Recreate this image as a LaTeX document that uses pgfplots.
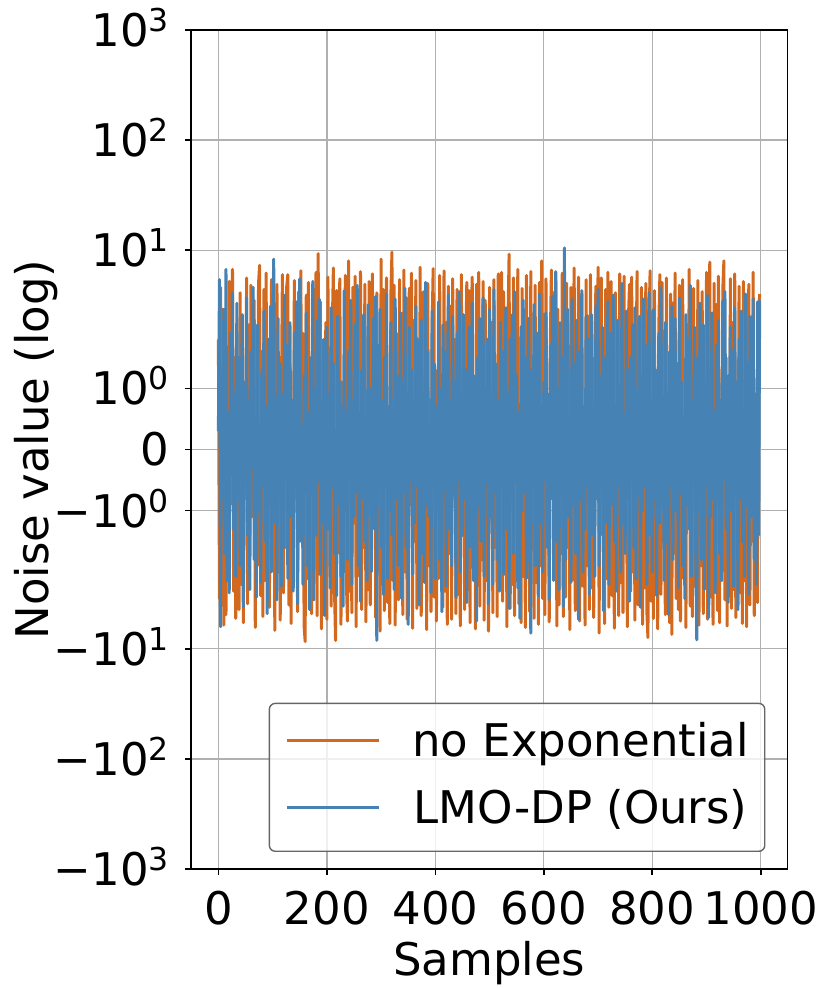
\documentclass[border=0pt]{standalone}
\usepackage{fontspec}
\setmainfont{DejaVu Sans}
\usepackage{pgfplots}
\usepackage{pgfplotstable}
\pgfplotsset{compat=1.18}
\definecolor{cOrange}{HTML}{D2691E}
\definecolor{cBlue}{HTML}{4682B4}
\definecolor{cGrid}{HTML}{B0B0B0}
\newcommand{\fs}{\fontsize{22.5}{27}\selectfont}
\newcommand{\pw}[1]{10\raisebox{0.33em}{\fontsize{15.75}{16}\selectfont #1}}

% no Exponential (samples 0,2,4,...,998)
\pgfplotstableread[row sep=\\]{
y\\
1.8\\ -3.5\\ 4.6\\ -1.2\\ 2.9\\ -6.1\\ 0.7\\ -4.9\\ 0.6\\ -2.2\\ 5.2\\ -0.9\\ 2.4\\ 6.7\\ -3.0\\ 1.5\\ -5.3\\ 1.1\\ -1.8\\ -4.4\\
4.1\\ -2.6\\ 1.3\\ -5.8\\ 0.5\\ -0.8\\ 5.6\\ -3.9\\ 2.1\\ -1.4\\ 4.8\\ -1.1\\ 0.9\\ 3.5\\ -6.4\\ 0.4\\ -1.9\\ 5.0\\ 7.3\\ -3.3\\
1.6\\ -5.1\\ 4.4\\ -2.4\\ 6.2\\ -1.1\\ 0.7\\ -4.2\\ 0.8\\ 5.4\\ -0.9\\ 2.3\\ -6.8\\ 1.2\\ 4.9\\ -2.0\\ 1.0\\ -5.5\\ 0.6\\ 6.0\\
-3.1\\ 2.5\\ -1.6\\ 4.7\\ 6.0\\ -4.0\\ 1.4\\ -5.9\\ 0.5\\ -2.7\\ 5.3\\ -0.7\\ 0.8\\ -4.6\\ 4.2\\ -1.5\\ 6.5\\ -0.6\\ 1.9\\ -6.2\\
-8.6\\ 3.9\\ -2.3\\ 5.1\\ -1.0\\ 0.6\\ -4.8\\ 4.5\\ -0.7\\ 1.7\\ 6.3\\ -5.0\\ 9.3\\ -2.1\\ 3.4\\ -6.6\\ 1.0\\ 1.2\\ -3.7\\ 2.2\\
-5.4\\ 5.7\\ -1.3\\ 0.4\\ -4.1\\ 2.0\\ 6.9\\ -2.8\\ -8.4\\ 4.3\\ -1.7\\ 2.9\\ 5.5\\ -6.0\\ 1.1\\ 0.9\\ -1.0\\ 5.9\\ -2.5\\ -5.6\\
8.0\\ -3.0\\ 0.6\\ -4.7\\ 4.6\\ -1.2\\ 5.8\\ -6.3\\ 1.5\\ 0.8\\ -2.2\\ 6.4\\ -4.4\\ 2.1\\ -1.6\\ 4.9\\ -5.7\\ 0.5\\ -2.9\\ 5.2\\
-4.0\\ 1.8\\ 6.1\\ -0.8\\ 2.7\\ -5.2\\ 4.1\\ -1.4\\ 1.0\\ -6.9\\ 8.3\\ -2.6\\ 4.4\\ -4.5\\ 1.2\\ 5.6\\ -3.8\\ 0.4\\ -5.9\\ 3.9\\
9.6\\ -2.4\\ 4.8\\ -6.1\\ 1.9\\ 0.7\\ -3.6\\ 5.4\\ -1.8\\ 0.5\\ -4.9\\ 6.6\\ -2.0\\ 3.7\\ -5.4\\ 1.4\\ 4.5\\ -0.9\\ 6.2\\ -6.5\\
2.3\\ -1.5\\ 5.3\\ -4.3\\ 0.6\\ -2.7\\ 7.0\\ -5.0\\ 1.6\\ 4.2\\ -1.1\\ 2.8\\ -6.7\\ 5.0\\ -1.9\\ 0.8\\ -4.6\\ 2.0\\ 6.8\\ -3.4\\
1.3\\ -5.6\\ 0.9\\ -2.3\\ 5.9\\ -1.1\\ 0.5\\ -4.2\\ 6.5\\ -3.0\\ 2.2\\ -6.0\\ 4.7\\ -1.7\\ 3.1\\ -5.4\\ 5.5\\ -0.7\\ 1.8\\ -4.8\\
4.4\\ -3.2\\ 0.6\\ -6.2\\ 6.0\\ -1.4\\ 1.0\\ -4.4\\ 1.6\\ 5.1\\ -2.9\\ 4.3\\ -5.8\\ 2.0\\ 5.7\\ -0.8\\ 1.1\\ -6.6\\ 4.9\\ -2.1\\
6.3\\ -4.1\\ 0.7\\ -1.8\\ 5.2\\ -5.5\\ 3.5\\ -2.4\\ 1.4\\ -6.9\\ 4.6\\ -0.6\\ 2.2\\ -4.7\\ 5.4\\ -1.6\\ 0.9\\ -5.1\\ 6.1\\ -2.8\\
1.9\\ 6.3\\ -3.7\\ 4.2\\ -2.1\\ 0.5\\ -6.3\\ 2.4\\ 9.2\\ -4.3\\ 1.5\\ -2.6\\ 5.6\\ -5.0\\ 0.8\\ -1.3\\ 6.7\\ -3.9\\ 0.6\\ -5.8\\
4.5\\ -2.2\\ 0.7\\ -6.4\\ 5.9\\ -1.5\\ 2.3\\ -4.6\\ 6.4\\ -0.6\\ 1.2\\ -5.3\\ 4.8\\ -2.5\\ 1.0\\ -6.0\\ 5.1\\ -1.9\\ 8.0\\ -3.5\\
2.6\\ -4.9\\ 5.5\\ -1.2\\ 0.6\\ -5.7\\ 1.8\\ 6.6\\ -0.8\\ 4.1\\ -2.0\\ 5.3\\ -6.2\\ 2.9\\ -4.0\\ 0.5\\ -1.7\\ 6.2\\ -5.1\\ 2.0\\
-3.4\\ 5.0\\ -1.6\\ 0.6\\ -6.7\\ 4.6\\ -2.4\\ 1.5\\ 6.9\\ -4.5\\ 0.9\\ -3.0\\ 5.7\\ -5.6\\ 1.3\\ 4.0\\ -2.7\\ 0.7\\ -6.1\\ 5.4\\
-1.9\\ 2.5\\ -4.4\\ 6.0\\ -2.8\\ 0.8\\ -5.2\\ 1.7\\ 4.7\\ -0.7\\ 7.0\\ -7.2\\ 2.2\\ 5.6\\ -1.4\\ 0.5\\ -5.9\\ 4.4\\ -2.3\\ 6.3\\
-4.2\\ 1.6\\ 5.2\\ -3.3\\ 0.6\\ -6.5\\ 4.1\\ -1.8\\ 0.9\\ -5.0\\ 6.1\\ -2.5\\ 1.9\\ -4.7\\ 5.8\\ -1.3\\ 0.4\\ -6.3\\ 2.4\\ 4.9\\
-3.0\\ 5.7\\ -2.0\\ 0.7\\ -5.5\\ 1.4\\ 6.4\\ -4.0\\ 0.5\\ -1.6\\ 4.6\\ -6.0\\ 0.9\\ -2.8\\ 5.0\\ -4.6\\ -7.9\\ 2.3\\ 6.5\\ -3.7\\
1.8\\ -5.3\\ 4.3\\ -2.1\\ 0.6\\ -6.6\\ 2.0\\ 6.0\\ -3.2\\ 5.1\\ -1.5\\ 0.8\\ -4.9\\ 5.6\\ -0.5\\ 1.2\\ -5.8\\ 4.0\\ -7.4\\ 3.3\\
-1.7\\ 6.2\\ -3.5\\ 0.5\\ -4.4\\ 4.8\\ -5.6\\ 1.6\\ 5.4\\ -2.3\\ 0.9\\ -6.4\\ 2.1\\ -1.2\\ 6.7\\ -4.1\\ 0.7\\ -5.1\\ 4.5\\ -2.7\\
1.4\\ -3.9\\ 5.3\\ -6.1\\ 0.6\\ -1.9\\ 4.2\\ -4.8\\ 0.8\\ -2.2\\ 6.3\\ -5.4\\ 1.9\\ 7.8\\ -3.4\\ 0.5\\ -6.0\\ 5.0\\ -1.6\\ 3.2\\
-4.5\\ 5.8\\ -5.8\\ 0.7\\ -2.0\\ 4.4\\ 8.0\\ -3.6\\ 1.5\\ -6.2\\ 0.9\\ -1.8\\ 5.5\\ -4.3\\ 2.2\\ -2.9\\ 6.1\\ -5.2\\ 0.6\\ -1.4\\
4.7\\ -3.1\\ 2.0\\ -5.9\\ 5.2\\ -2.4\\ 0.8\\ -6.3\\ 1.7\\ 4.9\\ -4.0\\ 0.6\\ -1.5\\ 6.3\\ -5.0\\ 0.9\\ -2.2\\ -3.8\\ 2.5\\ 4.0\\
}\orangedata

% LMO-DP (Ours) (samples 0,2,4,...,998)
\pgfplotstableread[row sep=\\]{
y\\
0.3\\ 5.4\\ -6.3\\ 1.2\\ -0.8\\ 2.9\\ -1.7\\ 6.7\\ -2.4\\ 0.6\\ -3.1\\ 1.9\\ -0.4\\ 4.1\\ -1.3\\ 0.9\\ -2.2\\ 3.3\\ -0.7\\ 1.5\\
-1.9\\ 0.2\\ 2.6\\ -4.2\\ 1.1\\ -0.5\\ 3.7\\ -1.4\\ 0.8\\ -2.9\\ 1.6\\ -0.3\\ 4.6\\ -1.8\\ 0.5\\ -3.4\\ 2.1\\ -1.0\\ 0.4\\ -2.5\\
1.3\\ -0.6\\ 2.8\\ -1.5\\ 0.7\\ -4.8\\ 1.8\\ -0.9\\ 3.1\\ -2.0\\ 0.3\\ 8.3\\ -1.2\\ 0.6\\ -3.6\\ 2.4\\ -0.8\\ 1.4\\ -2.7\\ 0.9\\
-1.6\\ 3.9\\ -0.4\\ 1.7\\ -2.3\\ 0.5\\ 2.2\\ -1.1\\ 0.8\\ -3.0\\ 1.9\\ -0.6\\ 3.4\\ -3.9\\ 0.7\\ 5.5\\ -1.5\\ 0.4\\ -2.6\\ 1.2\\
-0.7\\ 2.7\\ -1.9\\ 0.6\\ -4.4\\ 1.5\\ -0.3\\ 5.2\\ -3.6\\ 1.0\\ -1.4\\ 2.3\\ -0.5\\ 3.6\\ -2.1\\ 0.8\\ -1.2\\ 1.8\\ -5.0\\ 0.4\\
2.0\\ -1.3\\ 0.9\\ -2.8\\ 3.0\\ -0.6\\ 1.4\\ -1.7\\ 0.3\\ -3.3\\ 2.5\\ -0.9\\ 1.1\\ -2.2\\ 0.7\\ -4.1\\ 4.3\\ -1.0\\ 0.5\\ -1.8\\
1.6\\ -0.4\\ 3.5\\ -2.6\\ 0.8\\ -1.1\\ 2.1\\ -0.7\\ 4.8\\ -1.9\\ 0.6\\ -3.7\\ 1.3\\ -0.8\\ 2.6\\ -1.5\\ 0.2\\ -2.4\\ 3.2\\ -0.9\\
1.0\\ -2.0\\ 0.5\\ 2.4\\ -1.3\\ 3.8\\ -8.4\\ 1.7\\ -0.6\\ 2.9\\ -1.6\\ 0.8\\ -3.2\\ 1.5\\ -0.5\\ 4.0\\ -2.3\\ 0.7\\ -1.0\\ 2.2\\
-1.4\\ 0.6\\ -2.9\\ 3.6\\ -0.8\\ 1.2\\ -1.9\\ 0.4\\ 2.7\\ -3.5\\ 1.1\\ -0.7\\ 4.5\\ -1.6\\ 0.9\\ -6.0\\ 2.0\\ -0.5\\ 1.3\\ -2.1\\
0.8\\ -1.2\\ 3.1\\ -0.6\\ 1.8\\ -4.0\\ 0.5\\ 2.3\\ -1.7\\ 0.9\\ -2.5\\ 5.1\\ -0.9\\ 1.6\\ -1.1\\ 0.3\\ -3.1\\ 2.8\\ -0.6\\ 1.4\\
-2.3\\ 0.7\\ -0.9\\ 3.4\\ -1.8\\ 1.0\\ -4.6\\ 2.1\\ -0.4\\ 1.6\\ -2.7\\ 0.6\\ 3.9\\ -1.3\\ 0.8\\ -1.9\\ 2.5\\ -0.7\\ 1.1\\ -3.4\\
1.9\\ -0.5\\ 4.2\\ -2.0\\ 0.9\\ -1.4\\ 2.6\\ -0.8\\ 1.3\\ -3.8\\ 0.4\\ 2.0\\ -1.6\\ 0.7\\ 3.3\\ -2.4\\ 1.2\\ -0.6\\ -5.6\\ 1.5\\
-0.9\\ 2.4\\ -1.5\\ 0.6\\ 3.7\\ -2.2\\ 1.0\\ -0.4\\ 1.8\\ -3.9\\ 2.9\\ -1.1\\ 0.5\\ -2.6\\ 4.4\\ -0.7\\ 1.4\\ -1.8\\ 0.8\\ -3.0\\
2.2\\ -0.6\\ 1.6\\ -2.1\\ 0.7\\ 3.0\\ -1.3\\ 0.9\\ -4.3\\ 1.8\\ -0.8\\ 2.6\\ -1.7\\ 4.2\\ -0.5\\ 1.2\\ -2.8\\ 0.6\\ -5.3\\ 2.0\\
-1.0\\ 3.5\\ -0.7\\ 1.5\\ -2.3\\ 0.8\\ 2.4\\ -1.4\\ -7.2\\ 1.3\\ -0.6\\ 3.2\\ -1.9\\ 0.5\\ 1.9\\ -3.3\\ 4.0\\ -1.2\\ 0.7\\ -2.0\\
1.1\\ -0.5\\ 2.7\\ -1.6\\ 0.9\\ -3.6\\ 1.7\\ -0.8\\ 3.8\\ -2.4\\ 0.6\\ 6.4\\ -1.5\\ 1.0\\ -2.9\\ 2.2\\ -0.7\\ 1.5\\ -4.1\\ 10.5\\
-1.8\\ 0.8\\ 2.9\\ -1.1\\ 0.4\\ -2.5\\ 3.6\\ -0.9\\ 1.4\\ -1.7\\ 2.3\\ -0.6\\ -5.4\\ 1.6\\ -0.8\\ 4.3\\ -2.0\\ 0.7\\ -1.3\\ 2.5\\
-0.6\\ 1.8\\ -3.2\\ 0.9\\ 2.6\\ -1.4\\ 0.5\\ -2.2\\ 3.1\\ -0.8\\ 4.4\\ -1.9\\ 1.2\\ -0.5\\ 2.0\\ -4.5\\ 0.8\\ 1.5\\ -1.2\\ 3.4\\
-2.6\\ 0.6\\ 1.9\\ -0.9\\ 3.9\\ -1.5\\ 0.7\\ -3.0\\ 2.3\\ -0.6\\ 1.0\\ -2.0\\ 5.0\\ -1.2\\ 0.4\\ -1.7\\ 2.8\\ -0.8\\ 1.3\\ -3.7\\
1.5\\ -0.5\\ 2.1\\ -1.6\\ 3.0\\ -2.3\\ 0.9\\ -0.7\\ 2.5\\ -4.2\\ 1.2\\ -1.0\\ 3.6\\ -0.6\\ 1.7\\ -2.6\\ 0.5\\ 4.1\\ -1.4\\ 0.8\\
-2.0\\ 2.9\\ -0.8\\ 1.3\\ -3.3\\ 0.7\\ 1.9\\ -1.2\\ 4.6\\ -0.9\\ 0.4\\ -2.4\\ 2.2\\ -1.5\\ 0.9\\ -4.9\\ 1.6\\ -0.6\\ 3.1\\ -1.8\\
0.6\\ 2.4\\ -1.0\\ 1.4\\ -2.8\\ 3.7\\ -0.7\\ 1.1\\ -1.9\\ 0.5\\ -3.5\\ 2.6\\ -0.9\\ 1.8\\ -1.3\\ 4.8\\ -2.2\\ 0.8\\ -0.5\\ 2.0\\
-1.6\\ -8.3\\ 1.5\\ -0.7\\ 3.3\\ -1.8\\ 0.6\\ 2.1\\ -2.9\\ 1.0\\ -0.6\\ 3.9\\ -5.2\\ 1.3\\ -1.1\\ 2.7\\ -0.8\\ 0.5\\ -3.1\\ 1.7\\
-0.9\\ 2.3\\ -1.7\\ 0.8\\ -2.4\\ 3.5\\ -0.5\\ 4.2\\ -1.3\\ 1.2\\ -3.8\\ 0.7\\ 2.0\\ -1.0\\ 1.6\\ -2.7\\ 3.0\\ -0.6\\ 1.1\\ -4.4\\
1.8\\ -0.8\\ 2.8\\ -1.5\\ 0.6\\ -2.2\\ 4.0\\ -0.9\\ 1.4\\ -3.2\\ 2.5\\ -1.1\\ 0.7\\ 3.6\\ -1.8\\ 0.9\\ -2.6\\ 3.4\\ -1.4\\ 3.5\\
}\bluedata

\begin{document}
\begin{tikzpicture}
\begin{axis}[
  at={(0pt,0pt)}, anchor=south west,
  scale only axis, width=298pt, height=419.5pt,
  xmin=-49.95, xmax=1048.95,
  ymin=-3.810081, ymax=3.810081,
  % symmetric-log axis (linear for |y|<=2), data mapped by the filter below
  y filter/.code={\edef\yv{\pgfmathresult}\pgfmathparse{(1-2*(\yv<0))*(min(abs(\yv),2)*0.5555556+ln(max(abs(\yv),2)/2)*0.4342945)}},
  xtick={0,200,400,600,800,1000},
  xticklabels={0,200,400,600,800,1000},
  ytick={-3.810081,-2.810081,-1.810081,-0.555556,0,0.555556,1.810081,2.810081,3.810081},
  yticklabels={−\pw{3},−\pw{2},−\pw{1},−\pw{0},0,\pw{0},\pw{1},\pw{2},\pw{3}},
  tick align=outside, xtick pos=bottom, ytick pos=left,
  major tick length=3pt,
  every tick/.style={black, line width=0.8pt},
  axis line style={black, line width=0.8pt},
  grid=major, major grid style={cGrid, line width=0.65pt},
  tick label style={font=\fs, inner sep=0pt},
  xticklabel style={anchor=north, yshift=-8pt},
  yticklabel style={anchor=base east, xshift=-8pt, yshift=-8.2pt},
  xlabel={Samples}, ylabel={Noise value (log)},
  label style={font=\fs, inner sep=0pt},
  xlabel style={at={(axis description cs:0.5,-0.12694)}, anchor=base},
  ylabel style={at={(axis description cs:-0.23993,0.5)}, anchor=base, rotate=0},
  legend cell align=left,
  legend image code/.code={\draw[#1, line width=1.5pt] (0pt,8.2pt) -- (46pt,8.2pt);},
  legend style={at={(axis description cs:0.9634,0.02026)}, anchor=south east,
    draw=black!60, line width=0.7pt, rounded corners=3pt,
    fill=white, fill opacity=0.8, text opacity=1, font=\fs,
    inner xsep=8pt, inner ysep=8.4pt, row sep=9.85pt, column sep=16pt,
    nodes={inner sep=0pt, text height=18.35pt, text depth=5.3pt, anchor=base}},
]
\addplot[cOrange, line width=1.5pt, line join=round, mark=none] table[x expr=\coordindex*2, y=y] {\orangedata};
\addlegendentry{no Exponential}
\addplot[cBlue, line width=1.5pt, line join=round, mark=none] table[x expr=\coordindex*2, y=y] {\bluedata};
\addlegendentry{LMO-DP (Ours)}
\end{axis}
\pgfresetboundingbox
\useasboundingbox (-95.65pt,-59.5pt) rectangle (319.85pt,434.5pt);
\end{tikzpicture}
\end{document}
